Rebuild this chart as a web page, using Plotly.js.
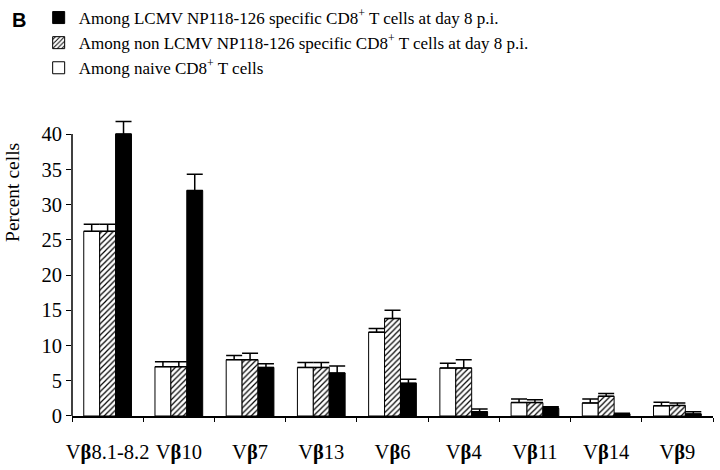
<!DOCTYPE html>
<html>
<head>
<meta charset="utf-8">
<script src="https://cdn.plot.ly/plotly-3.0.1.min.js"></script>
<style>html,body{margin:0;padding:0;background:#fff}#chart{width:720px;height:470px}</style>
</head>
<body>
<div id="chart"></div>
<script>
const categories = ["V<b>β</b>8.1-8.2", "V<b>β</b>10", "V<b>β</b>7", "V<b>β</b>13", "V<b>β</b>6", "V<b>β</b>4", "V<b>β</b>11", "V<b>β</b>14", "V<b>β</b>9"];
const naiveValues = [26.2, 7.0, 8.0, 6.9, 11.9, 6.8, 1.9, 1.85, 1.45];
const naiveErrors = [1.0, 0.7, 0.6, 0.7, 0.5, 0.7, 0.5, 0.55, 0.5];
const nonSpecificValues = [26.2, 7.0, 8.0, 6.9, 13.85, 6.8, 1.9, 2.8, 1.5];
const nonSpecificErrors = [1.0, 0.7, 0.9, 0.7, 1.15, 1.2, 0.4, 0.4, 0.35];
const specificValues = [40.0, 32.0, 6.9, 6.1, 4.65, 0.6, 1.1, 0.3, 0.3];
const specificErrors = [1.8, 2.3, 0.5, 1.0, 0.55, 0.4, 0.2, 0.1, 0.3];
const seriesNames = [
  "Among naive CD8<sup>+</sup> T cells",
  "Among non LCMV NP118-126 specific CD8<sup>+</sup> T cells at day 8 p.i.",
  "Among LCMV NP118-126 specific CD8<sup>+</sup> T cells at day 8 p.i."
];
const yTicks = [0, 5, 10, 15, 20, 25, 30, 35, 40];
const yAxisTop = 40;

const serif = "Liberation Serif, Times New Roman, serif";
function zeros(n){ return new Array(n).fill(0); }
function errObj(arr){
  return {type: "data", symmetric: false, array: arr, arrayminus: zeros(arr.length),
          color: "#000", thickness: 1.5, width: 8};
}
const traces = [
  {type: "bar", name: seriesNames[0], x: categories, y: naiveValues,
   marker: {color: "#fff", line: {color: "#000", width: 1}},
   error_y: errObj(naiveErrors), cliponaxis: false},
  {type: "bar", name: seriesNames[1], x: categories, y: nonSpecificValues,
   marker: {color: "#fff", line: {color: "#000", width: 1},
            pattern: {shape: "/", fgcolor: "#000", bgcolor: "#fff", size: 4, solidity: 0.3}},
   error_y: errObj(nonSpecificErrors), cliponaxis: false},
  {type: "bar", name: seriesNames[2], x: categories, y: specificValues,
   marker: {color: "#000", line: {color: "#000", width: 1}},
   error_y: errObj(specificErrors), cliponaxis: false}
];

const layout = {
  width: 720, height: 470,
  margin: {l: 72, r: 7, t: 0, b: 54},
  paper_bgcolor: "#fff", plot_bgcolor: "#fff",
  barmode: "group", bargap: 0.33, bargroupgap: 0,
  showlegend: true,
  legend: {traceorder: "reversed", x: -0.052, xanchor: "left", y: 1.0, yanchor: "top",
           font: {family: serif, size: 17, color: "#000"}, bgcolor: "rgba(0,0,0,0)",
           itemwidth: 30, tracegroupgap: 0},
  font: {family: serif, color: "#000"},
  xaxis: {type: "category", showline: true, linecolor: "#000", linewidth: 1.5,
          ticks: "outside", tickson: "boundaries", ticklen: 4, tickcolor: "#000",
          showgrid: false, zeroline: false, ticklabelstandoff: 17, tickangle: 0,
          tickfont: {family: serif, size: 20.5, color: "#000"}},
  yaxis: {range: [0, 42], domain: [0, 0.7115], tickvals: yTicks, ticktext: yTicks.map(String),
          showline: false,
          ticks: "outside", ticklen: 5, tickcolor: "#000",
          showgrid: false, zeroline: false,
          tickfont: {family: serif, size: 20.5, color: "#000"}},
  shapes: [
    {type: "line", xref: "paper", yref: "y", x0: 0, x1: 0, y0: 0, y1: yAxisTop,
     line: {color: "#000", width: 1.5}}
  ],
  annotations: [
    {text: "<b>B</b>", xref: "paper", yref: "paper", x: -0.097, y: 0.953, xanchor: "left", yanchor: "middle",
     showarrow: false, font: {family: "Liberation Sans, Arial, sans-serif", size: 20, color: "#000"}},
    {text: "Percent cells", xref: "paper", yref: "paper", x: -0.094, y: 0.538, xanchor: "center", yanchor: "middle",
     textangle: -90, showarrow: false, font: {family: serif, size: 19.5, color: "#000"}}
  ]
};

Plotly.newPlot("chart", traces, layout, {displayModeBar: false, staticPlot: true});
</script>
</body>
</html>
